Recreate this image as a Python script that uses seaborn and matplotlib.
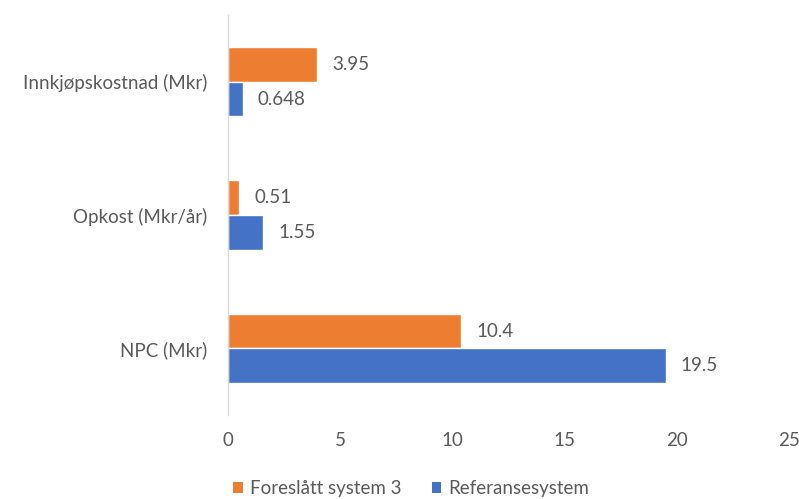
import matplotlib
matplotlib.use("Agg")
import matplotlib.pyplot as plt
import seaborn as sns
import pandas as pd
from matplotlib.patches import Patch

categories = ["Innkjøpskostnad (Mkr)", "Opkost (Mkr/år)", "NPC (Mkr)"]
series_names = ["Foreslått system 3", "Referansesystem"]
foreslatt = [3.95, 0.51, 10.4]
referanse = [0.648, 1.55, 19.5]
x_ticks = [0, 5, 10, 15, 20, 25]

colors = {"Foreslått system 3": "#ED7D31", "Referansesystem": "#4472C4"}
text_color = "#595959"
fs = 13.5

df = pd.DataFrame({
    "kategori": categories * 2,
    "system": [series_names[0]] * 3 + [series_names[1]] * 3,
    "verdi": foreslatt + referanse,
})

sns.set_theme(style="white")
plt.rcParams["font.family"] = ["Lato", "DejaVu Sans"]

fig = plt.figure(figsize=(7.99, 4.99), dpi=100)
ax = fig.add_axes([0.2854, 0.168, 0.702, 0.802])

sns.barplot(data=df, x="verdi", y="kategori", hue="system", order=categories,
            hue_order=series_names, palette=colors, orient="h", width=0.52,
            gap=0, saturation=1, ax=ax, legend=False)

values_by_series = [foreslatt, referanse]
for container, vals in zip(ax.containers, values_by_series):
    ax.bar_label(container, labels=[f"{v:g}" for v in vals], padding=11,
                 fontsize=fs, color=text_color)

ax.set_xlim(0, 25)
ax.set_xticks(x_ticks)
ax.set_xticklabels([str(t) for t in x_ticks])
ax.set_xlabel("")
ax.set_ylabel("")
ax.tick_params(axis="x", length=0, pad=12, labelsize=fs, labelcolor=text_color)
ax.tick_params(axis="y", length=0, pad=15, labelsize=fs, labelcolor=text_color)
for side in ["top", "right", "bottom"]:
    ax.spines[side].set_visible(False)
ax.spines["left"].set_color("#D9D9D9")
ax.spines["left"].set_linewidth(1.0)
ax.grid(False)

handles = [Patch(facecolor=colors[n], edgecolor="none") for n in series_names]
fig.legend(handles, series_names, loc="lower left", bbox_to_anchor=(0.271, -0.03),
           ncol=2, frameon=False, fontsize=fs, labelcolor=text_color,
           handlelength=0.5, handleheight=0.5, handletextpad=0.4, columnspacing=1.6)

fig.savefig("out.png", dpi=100, facecolor="white")
